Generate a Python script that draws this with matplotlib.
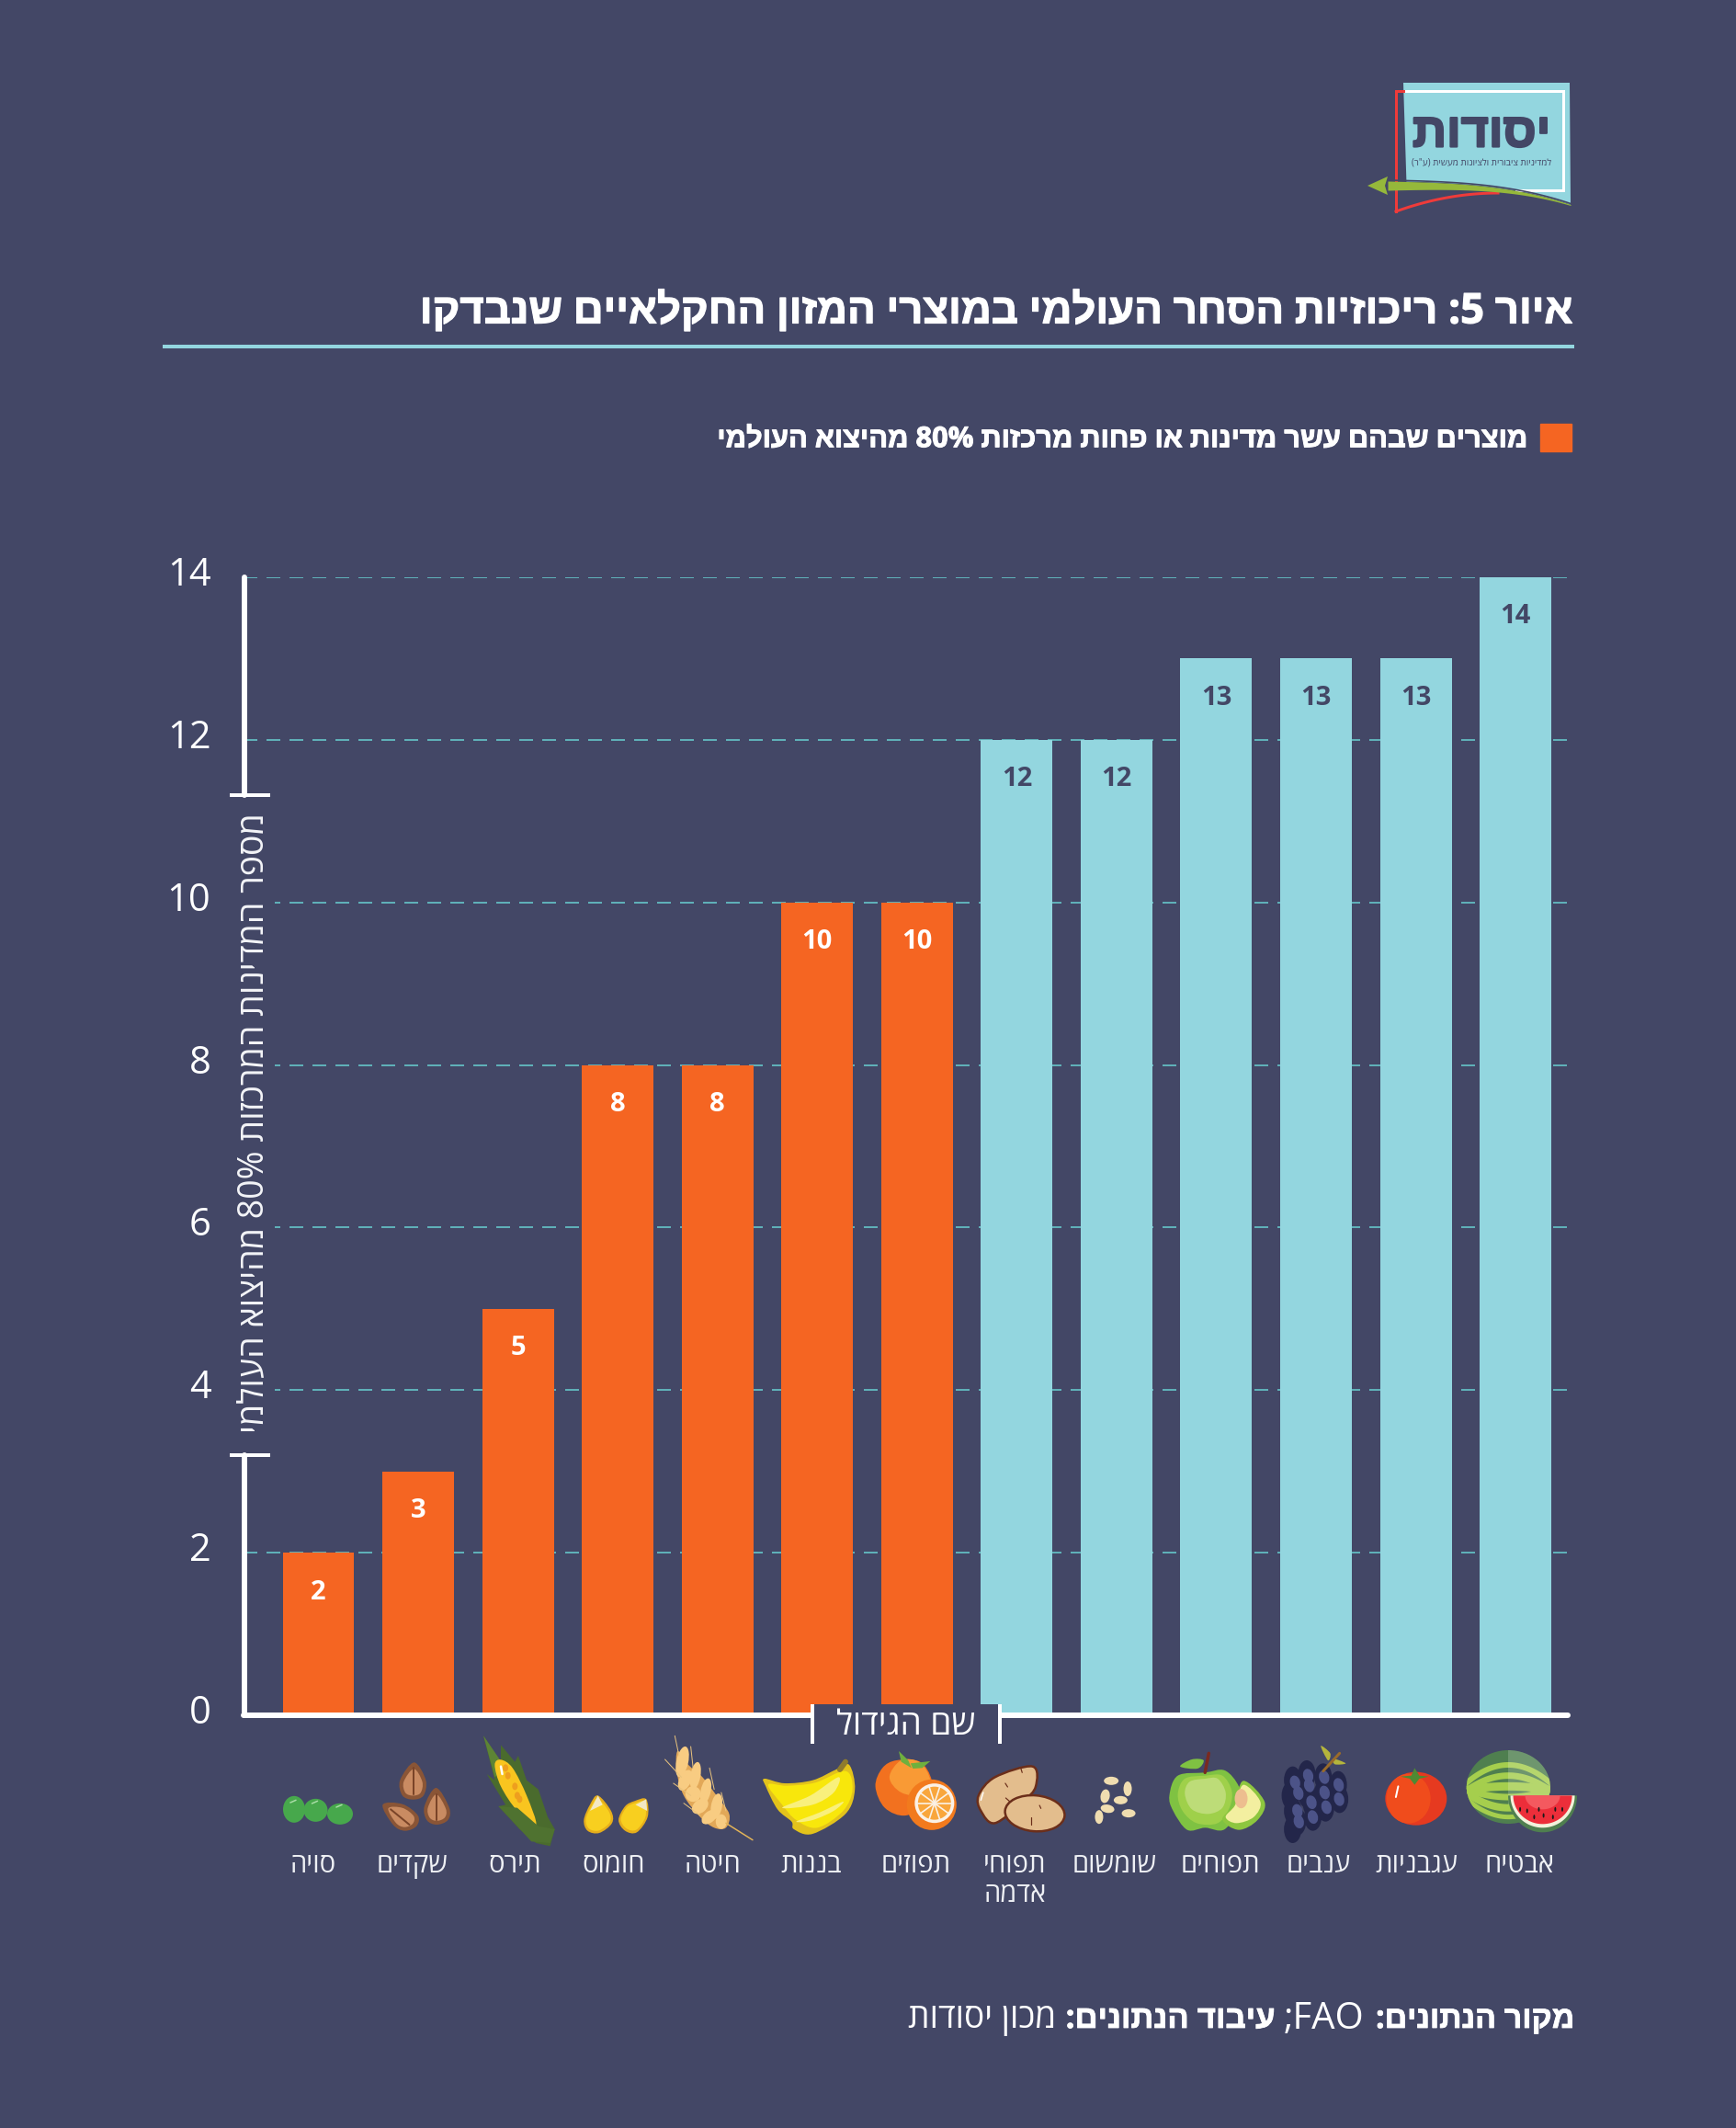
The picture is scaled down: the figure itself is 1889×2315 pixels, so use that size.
import re
import numpy as np
import matplotlib
matplotlib.use("Agg")
import matplotlib.pyplot as plt
import matplotlib.patheffects as pe
from matplotlib.patches import Patch, Rectangle, Ellipse, PathPatch, Polygon
from matplotlib.path import Path
from matplotlib.transforms import ScaledTranslation

crops = ["סויה", "שקדים", "תירס", "חומוס", "חיטה", "בננות", "תפוזים", "תפוחי\nאדמה",
         "שומשום", "תפוחים", "ענבים", "עגבניות", "אבטיח"]
countries = [2, 3, 5, 8, 8, 10, 10, 12, 12, 13, 13, 13, 14]
concentrated = [True] * 7 + [False] * 6
y_ticks = [0, 2, 4, 6, 8, 10, 12, 14]

title = "איור 5: ריכוזיות הסחר העולמי במוצרי המזון החקלאיים שנבדקו"
legend_label = "מוצרים שבהם עשר מדינות או פחות מרכזות 80% מהיצוא העולמי"
y_label = "מספר המדינות המרכזות 80% מהיצוא העולמי"
x_label = "שם הגידול"

BG = "#434766"
ORANGE = "#F56522"
BLUE = "#93D6DF"
GRID = "#5FB0B8"
FONT = ["Open Sans", "Liberation Sans", "DejaVu Sans"]
plt.rcParams["font.family"] = FONT
W, H = 1890, 2315
MIRROR = str.maketrans("()", ")(")


def vis(s):
    """Visual order for right-to-left text, since matplotlib has no bidi."""
    lines = []
    for line in s.split("\n"):
        r = line[::-1].translate(MIRROR)
        r = re.sub(r"[0-9A-Za-z%]+", lambda m: m.group(0)[::-1], r)
        lines.append(r)
    return "\n".join(lines)


def heavy(t, color, w=1.0):
    t.set_path_effects([pe.withStroke(linewidth=px(w), foreground=color)])
    return t


fig = plt.figure(figsize=(W / 100, H / 100), dpi=100, facecolor=BG)
px = lambda v: v * 0.72

X0, X1 = 265.4, 1713.0
Y0, Y14 = 1866.0, 628.0
C0, PITCH = 346.5, 108.55
ax = fig.add_axes([X0 / W, 1 - Y0 / H, (X1 - X0) / W, (Y0 - Y14) / H], facecolor="none")
ax.set_xlim((X0 - C0) / PITCH, (X1 - C0) / PITCH)
ax.set_ylim(0, 14)
xs = np.arange(len(crops))
colors = [ORANGE if c else BLUE for c in concentrated]
bars = ax.bar(xs, countries, width=0.718, color=colors, zorder=3)
ax.set_axisbelow(True)
ax.grid(axis="y", color=GRID, lw=px(2), linestyle=(0, (7.5, 5)))
ax.grid(axis="x", visible=False)
for s in ("top", "right", "left"):
    ax.spines[s].set_visible(False)
ax.spines["bottom"].set_color("white")
ax.spines["bottom"].set_linewidth(px(6))
ax.spines["bottom"].set_capstyle("round")
ax.spines["bottom"].set_bounds((X0 - C0) / PITCH, (1706 - C0) / PITCH)
ax.spines["bottom"].set_zorder(4)

ax.set_yticks(y_ticks)
ax.tick_params(axis="y", length=0, pad=px(36), labelcolor="white", labelsize=30)
for lab in ax.get_yticklabels():
    lab.set_fontweight("normal")
    lab.set_transform(lab.get_transform() + ScaledTranslation(0, 7 / 100, fig.dpi_scale_trans))

ax.set_xticks(xs)
ax.set_xticklabels([vis(c) for c in crops], fontsize=21, color="#EEF0F4", linespacing=1.15)
ax.tick_params(axis="x", length=0, pad=px(149))
label_off = [-6, -6, -3, -5, -5, -7, -1, -2, -2, 5, 3, 1, 4]
for lab, o in zip(ax.get_xticklabels(), label_off):
    lab.set_transform(lab.get_transform() + ScaledTranslation(o / 100, 0, fig.dpi_scale_trans))

for x, v, c in zip(xs, countries, concentrated):
    ax.annotate(str(v), (x, v), xytext=(0, -px(43)), textcoords="offset points", ha="center", va="center",
                fontsize=21, fontweight="bold", color="white" if c else BG, zorder=5)

ax.set_ylabel(vis(y_label), rotation=90, fontsize=27, color="#F4F5F8", ha="center", va="center",
              bbox=dict(fc=BG, ec="none", pad=3))
ax.yaxis.set_label_coords((276 - X0) / (X1 - X0), (Y0 - 1222) / (Y0 - Y14))

leg = ax.legend(handles=[Patch(color=ORANGE, label=vis(legend_label))], loc="upper right",
                bbox_to_anchor=(1710 / W, 1 - 461 / H), bbox_transform=fig.transFigure,
                frameon=False, markerfirst=False, borderaxespad=0, borderpad=0,
                prop=dict(weight="bold", size=22.2), labelcolor="white",
                handlelength=34 / 30.8, handleheight=34 / 30.8, handletextpad=12 / 30.8)
for t in leg.get_texts():
    heavy(t, "white", 1.0)

# pixel-coordinate overlay for decoration
ov = fig.add_axes([0, 0, 1, 1], facecolor="none", zorder=5)
ov.set_xlim(0, W)
ov.set_ylim(H, 0)
ov.axis("off")


def fit(t, width):
    r = fig.canvas.get_renderer()
    w = t.get_window_extent(r).width
    t.set_fontsize(t.get_fontsize() * width / w)
    return t


heavy(fit(ov.text(1713, 340, vis(title), ha="right", va="center", fontsize=30, fontweight="bold", color="white"), 1253), "white", 1.2)
ov.plot([177, 1713], [377, 377], color=BLUE, lw=px(4), solid_capstyle="butt")

# y-axis bracket
for ya, yb in ((628, 865), (1583, 1866)):
    ov.plot([265.5, 265.5], [ya, yb], color="white", lw=px(6), solid_capstyle="round")
for yc in (865, 1583):
    ov.plot([250, 294], [yc, yc], color="white", lw=px(4), solid_capstyle="butt")

# x-axis title box
ov.add_patch(Rectangle((884, 1854), 204, 43, fc=BG, ec="none", zorder=2))
for xc in (884, 1088):
    ov.plot([xc, xc], [1854, 1897], color="white", lw=px(4), solid_capstyle="butt", zorder=3)
fit(ov.text(986, 1878, vis(x_label), ha="center", va="center", fontsize=24, color="white", zorder=3), 152)

# footer
for xr, s, wd, wt in ((1713, "מקור הנתונים:", 217, "bold"), (1484, ";FAO", 88, "normal"),
                      (1388, "עיבוד הנתונים:", 229, "bold"), (1149, "מכון יסודות", 162, "normal")):
    txt = s if "FAO" in s else vis(s)
    t = fit(ov.text(xr, 2197, txt, ha="right", va="center", fontsize=23, fontweight=wt, color="white"), wd)
    if wt == "bold":
        heavy(t, "white", 0.8)


# ---------- icon helpers ----------
def L(x, y):
    return 170 + x / 1.96, 1820 + y / 3


def R(x, y):
    return 950 + x / 1.96, 1820 + y / 3


def blob(m, pts, color, z=6, ec=None, lw=0, scale=1.0):
    p = np.array([m(*q) for q in pts], float)
    if scale != 1.0:
        c = p.mean(axis=0)
        p = c + (p - c) * scale
    n = len(p)
    verts = [p[0]]
    codes = [Path.MOVETO]
    for i in range(n):
        p0, p1, p2, p3 = p[i - 1], p[i], p[(i + 1) % n], p[(i + 2) % n]
        verts += [p1 + (p2 - p0) / 6, p2 - (p3 - p1) / 6, p2]
        codes += [Path.CURVE4] * 3
    patch = PathPatch(Path(verts, codes), fc=color, ec=ec or "none", lw=lw, zorder=z)
    ov.add_patch(patch)
    return patch


def poly(m, pts, color, z=6):
    ov.add_patch(Polygon([m(*q) for q in pts], closed=True, fc=color, ec="none", zorder=z))


def ell(m, cx, cy, w, h, angle, color, z=6, ec=None, lw=0):
    x, y = m(cx, cy)
    e = Ellipse((x, y), w, h, angle=angle, fc=color, ec=ec or "none", lw=lw, zorder=z)
    ov.add_patch(e)
    return e


def line(m, pts, color, lw, z=7):
    a = np.array([m(*q) for q in pts])
    return ov.plot(a[:, 0], a[:, 1], color=color, lw=px(lw), zorder=z, solid_capstyle="round")[0]


# soy
for cx, cy, w, h, a in ((294, 445, 24, 29, 0), (340, 448, 26, 25, 0), (392, 460, 28, 23, 0)):
    ell(L, cx, cy, w, h, a, "#47A84C")
    line(L, [(cx - 8, cy - 22), (cx + 4, cy - 30)], "#A9DDA6", 1.5)
# almonds
for pts in ([(550, 292), (575, 350), (570, 400), (548, 413), (525, 400), (520, 350)],
            [(597, 375), (625, 440), (622, 480), (598, 495), (577, 480), (572, 435)],
            [(483, 430), (525, 428), (558, 465), (555, 500), (530, 515), (505, 495)]):
    blob(L, pts, "#8A5536")
    blob(L, pts, "#C98B62", z=6.1, scale=0.72)
line(L, [(548, 310), (548, 395)], "#7A4428", 2)
line(L, [(597, 395), (597, 480)], "#7A4428", 2)
line(L, [(500, 445), (540, 495)], "#7A4428", 2)
# corn
poly(L, [(698, 205), (735, 290), (735, 235), (765, 290), (772, 270), (790, 350), (815, 380), (835, 470),
         (850, 510), (840, 565), (810, 555), (775, 510), (730, 435), (745, 430), (705, 330), (722, 350)], "#4A6B2D")
poly(L, [(698, 205), (745, 310), (722, 340)], "#5D8435", z=6.1)
blob(L, [(722, 300), (735, 283), (760, 310), (790, 400), (810, 495), (770, 450), (735, 370)], "#F9C51F", z=6.2)
for cx, cy in ((745, 310), (765, 370), (770, 400), (775, 412), (750, 335)):
    ell(L, cx, cy, 6, 8, 0, "#EE9F1E", z=6.3)
line(L, [(735, 305), (738, 330)], "white", 2.5, z=6.4)
poly(L, [(730, 435), (770, 440), (800, 480), (815, 500), (850, 510), (840, 555), (800, 550), (770, 500)], "#4F7230", z=6.5)
# chickpeas
for pts, tip in (([(942, 400), (970, 450), (972, 490), (945, 522), (920, 515), (912, 480), (925, 430)],
                  [(942, 400), (952, 430), (925, 450)]),
                 ([(1045, 412), (1048, 470), (1025, 520), (1000, 515), (986, 480), (1000, 435), (1020, 418)],
                  [(1045, 412), (1047, 450), (1022, 430)])):
    blob(L, pts, "#E6AE1B")
    blob(L, pts, "#F8CF1F", z=6.1, scale=0.85)
    poly(L, tip, "#F3E8C4", z=6.2)
# wheat
line(L, [(1215, 490), (1272, 545)], "#E3B458", 1.5)
for a, b in (((1115, 270), (1106, 205)), ((1145, 310), (1140, 240)), ((1120, 340), (1085, 282)),
             ((1140, 400), (1103, 360)), ((1160, 465), (1125, 425)), ((1190, 380), (1180, 310)),
             ((1215, 450), (1205, 390))):
    line(L, [a, b], "#E9C37D", 1)
blob(L, [(1112, 255), (1135, 300), (1165, 340), (1195, 400), (1222, 460), (1215, 505), (1190, 505), (1160, 470), (1125, 400), (1110, 320)], "#E2A858")
for cx, cy, w, h, a in ((1122, 290, 13, 34, 12), (1150, 335, 11, 30, 10), (1128, 350, 13, 24, 25), (1172, 385, 11, 28, 12),
                        (1145, 395, 17, 17, 50), (1195, 435, 12, 28, 10), (1160, 435, 20, 14, -40), (1205, 485, 12, 16, 0),
                        (1180, 470, 20, 12, -40)):
    ell(L, cx, cy, w, h, a, "#F8CC82", z=6.1)
# banana
line(L, [(1458, 315), (1470, 290)], "#8F7B2D", 6)
blob(L, [(1478, 300), (1490, 380), (1470, 460), (1400, 525), (1360, 510), (1355, 485), (1325, 445), (1300, 370),
         (1297, 345), (1340, 360), (1400, 350), (1450, 315)], "#E3C31B")
blob(L, [(1470, 320), (1485, 380), (1465, 450), (1410, 505), (1365, 480), (1335, 430), (1305, 365), (1345, 368), (1405, 358)],
     "#F8E70B", z=6.1)
blob(L, [(1455, 340), (1445, 390), (1400, 430), (1335, 440), (1395, 400)], "#F9F07C", z=6.2)
blob(L, [(1465, 420), (1445, 450), (1400, 480), (1365, 485), (1415, 455)], "#F9F07C", z=6.2)

# orange
blob(R, [(50, 285), (100, 290), (125, 350), (120, 420), (70, 465), (25, 440), (5, 370), (20, 310)], "#F2711F")
blob(R, [(60, 285), (100, 292), (122, 350), (110, 400), (60, 390), (35, 340)], "#F99A35", z=6.1)
poly(R, [(55, 255), (75, 285), (82, 310), (60, 290)], "#6FB03E", z=6.2)
poly(R, [(80, 295), (122, 288), (105, 310), (85, 312)], "#6FB03E", z=6.2)
ell(R, 125, 430, 54, 55, 0, "#F27A1D", z=6.3)
ell(R, 131, 425, 43, 43, 0, "#FBF1E6", z=6.4)
ell(R, 131, 425, 36, 36, 0, "#F9A63C", z=6.5)
ca = R(131, 425)
for a in np.deg2rad(np.arange(0, 180, 36)):
    dx, dy = 18 * np.cos(a), 18 * np.sin(a)
    ov.plot([ca[0] - dx, ca[0] + dx], [ca[1] - dy, ca[1] + dy], color="#FBF1E6", lw=1.2, zorder=6.6)
# potato
blob(R, [(340, 305), (347, 370), (320, 420), (260, 490), (230, 450), (225, 400), (260, 340)], "#E3BD8D", ec="#6B2E1A", lw=1.8)
ell(R, 345, 458, 65, 39, 5, "#E3BD8D", z=6.2, ec="#6B2E1A", lw=1.8)
for a, b in (((315, 310), (318, 325)), ((282, 360), (287, 372)), ((283, 408), (292, 420)), ((338, 470), (338, 495)), ((355, 432), (358, 442))):
    line(R, [a, b], "#6B2E1A", 1.2)
line(R, [(235, 390), (230, 415)], "white", 1.5)
# sesame
for cx, cy, w, h, a in ((508, 352, 16, 9, 0), (543, 378, 9, 16, 0), (495, 402, 10, 15, 10), (528, 415, 15, 9, 0),
                        (500, 443, 15, 9, 10), (545, 458, 15, 9, 0), (482, 470, 9, 15, 0)):
    ell(R, cx, cy, w, h, a, "#F0DDB0")
# apple
line(R, [(708, 325), (716, 262)], "#7A2A20", 3.5, z=6.5)
blob(R, [(655, 305), (680, 282), (705, 285), (692, 312)], "#7FC242")
blob(R, [(632, 400), (650, 335), (708, 325), (750, 318), (780, 370), (783, 430), (750, 510), (708, 505), (670, 512), (640, 450)], "#7FC242", z=6.1)
blob(R, [(650, 395), (665, 345), (708, 335), (745, 335), (765, 385), (760, 440), (735, 490), (690, 490), (660, 450)], "#9FD04A", z=6.2)
blob(R, [(665, 395), (675, 355), (708, 345), (735, 345), (752, 390), (745, 440), (715, 460), (680, 445)], "#BDDC78", z=6.3)
blob(R, [(790, 352), (835, 420), (820, 480), (780, 512), (745, 478), (770, 430)], "#8DC63F", z=6.4)
blob(R, [(790, 365), (826, 420), (812, 470), (775, 490), (752, 470), (772, 432)], "#F3EFA0", z=6.5)
ell(R, 785, 410, 14, 21, 0, "#EDBE8F", z=6.6)
# grapes
line(R, [(960, 320), (995, 262)], "#9A6B2A", 3)
blob(R, [(955, 238), (975, 262), (970, 285)], "#B5B53C")
blob(R, [(982, 280), (1008, 295), (985, 298)], "#B5B53C")
for cx, cy in ((895, 350), (925, 330), (960, 340), (992, 365), (890, 400), (925, 395), (960, 390), (995, 412),
               (895, 450), (935, 425), (965, 440), (905, 485), (938, 470), (895, 510)):
    ell(R, cx, cy, 19, 30, 0, "#23264A")
for cx, cy in ((900, 357), (928, 335), (962, 340), (993, 365), (907, 392), (930, 367), (963, 390), (994, 412),
               (905, 450), (935, 422), (967, 438), (908, 485), (938, 470)):
    ell(R, cx, cy, 11, 15, -15, "#4C5388", z=6.1)
# tomato
ell(R, 1158, 410, 67, 58, 0, "#E63A20")
ell(R, 1142, 410, 48, 54, 0, "#F04C1C", z=6.1)
poly(R, [(1155, 310), (1165, 335), (1185, 338), (1165, 345), (1155, 365), (1145, 345), (1125, 338), (1148, 335)], "#4E8A33", z=6.2)
line(R, [(1120, 370), (1115, 405)], "white", 2)
# watermelon
melon = ell(R, 1355, 372, 91, 80, 0, "#4F7F4F")
bx = np.linspace(1260, 1450, 40)
for y0, c, w_ in ((335, 50, 7), (370, 12, 9), (440, -50, 8), (405, -25, 7), (300, 60, 6), (470, -60, 5)):
    ys = 1820 + (y0 + c * ((bx - 1355) / 90) ** 2) / 3
    xp = 950 + bx / 1.96
    ln = ov.plot(xp, ys, color="#A5CE4D", lw=px(w_), zorder=6.1)[0]
    ln.set_clip_path(melon)
hl = ov.add_patch(Rectangle(R(1355, 250), 50, 60, fc="white", alpha=0.18, ec="none", zorder=6.2))
hl.set_clip_path(melon)
sx, sy = R(1428, 400)
th = np.linspace(0, np.pi, 60)
for rx, ry, col, z in ((37.5, 40, "#4F7F4F", 6.3), (35, 35, "#F2F2DC", 6.4), (32, 31, "#EC2E3A", 6.5), (19, 15, "#F4595F", 6.6)):
    ov.add_patch(Polygon(np.c_[sx + rx * np.cos(th), sy + ry * np.sin(th)], closed=True, fc=col, ec="none", zorder=z))
for cx, cy in ((1380, 445), (1395, 450), (1410, 470), (1430, 465), (1450, 470), (1470, 445), (1455, 445), (1420, 445)):
    ell(R, cx, cy, 2, 5, 0, "#1A1A1A", z=6.7)

# logo
gt = np.linspace(0, 1, 40)
gx = 1510 + gt * 199
gy = 202 + 21 * gt ** 3
top = gy - 4.5 * (1 - gt) - 0.5
mask = gx >= 1527
ov.add_patch(Polygon(np.r_[[(1527, 90), (1708, 90)], np.c_[gx[mask], top[mask]][::-1]], closed=True, fc=BLUE, ec="none", zorder=7))
ov.plot([1527, 1701, 1701, 1650], [99, 99, 207, 207], color="white", lw=px(3), zorder=7.05, solid_joinstyle="miter")
ov.plot([1527, 1519, 1519], [99, 99, 230], color="#EF3B3A", lw=px(3), zorder=7.1, solid_joinstyle="miter")
bt = np.linspace(0, 1, 30)
ov.plot(1519 + bt * 111, 230 - 20 * (2 * bt - bt ** 2), color="#EF3B3A", lw=px(3), zorder=7.1)
ov.fill_between(gx, top, gy + 4.5 * (1 - gt) + 0.5, color="#95B83B", lw=0, zorder=7.3)
ov.plot(gx, top - 1, color=BG, lw=1.2, zorder=7.2)
ov.add_patch(Polygon([(1488, 202), (1510, 192), (1507, 202), (1510, 212)], closed=True, fc="#95B83B", ec="none", zorder=7.3))
heavy(fit(ov.text(1612, 146, vis("יסודות"), ha="center", va="center", fontsize=30, fontweight="bold", color=BG, zorder=8), 150), BG, 2.2)
fit(ov.text(1612, 177, vis('למדיניות ציבורית ולציונות מעשית (ע"ר)'), ha="center", va="center", fontsize=7, color=BG, zorder=8), 152)

fig.savefig("out.png", dpi=100, facecolor=BG)
